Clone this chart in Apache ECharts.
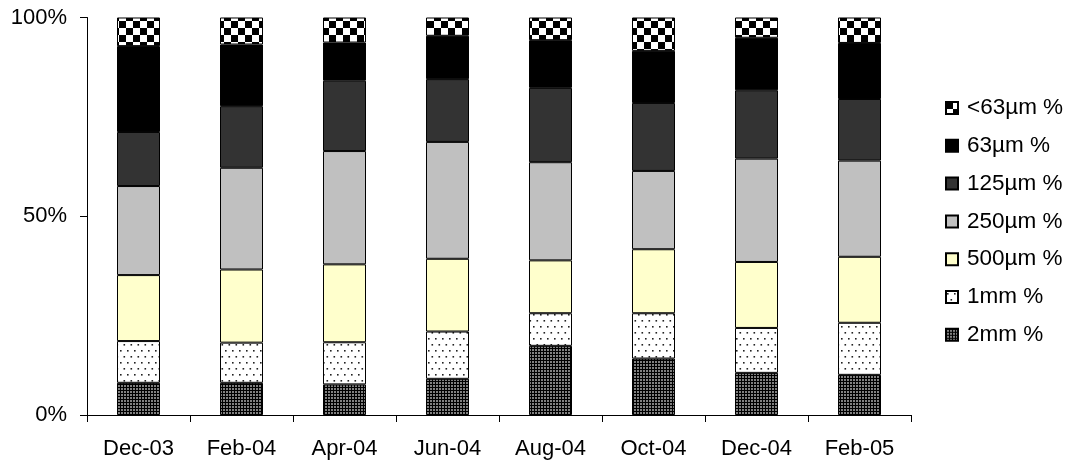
<!DOCTYPE html>
<html>
<head>
<meta charset="utf-8">
<script src="https://cdn.jsdelivr.net/npm/echarts@6/dist/echarts.min.js"></script>
<style>
html,body{margin:0;padding:0;background:#fff;}
#c{width:1069px;height:467px;}
</style>
</head>
<body>
<div id="c"></div>
<script>
const categories = ['Dec-03','Feb-04','Apr-04','Jun-04','Aug-04','Oct-04','Dec-04','Feb-05'];
const s2mm   = [8.1, 8.1, 7.7, 9.1, 17.4, 14.2, 10.6, 10.1];
const s1mm   = [10.5, 10.1, 10.6, 11.9, 8.2, 11.4, 11.3, 13.1];
const s500   = [16.6, 18.4, 19.6, 18.3, 13.3, 16.1, 16.6, 16.6];
const s250   = [22.4, 25.6, 28.5, 29.4, 24.7, 19.7, 26.0, 24.2];
const s125   = [13.6, 15.5, 17.7, 15.8, 18.7, 17.1, 17.2, 15.5];
const s63    = [21.6, 15.5, 9.6, 10.9, 12.0, 13.1, 13.2, 14.1];
const sLt63  = [7.2, 6.8, 6.3, 4.6, 5.7, 8.4, 5.1, 6.4];
const yTicks = [0, 50, 100];

function checker(){
  const c = document.createElement('canvas'); c.width = 14; c.height = 14;
  const g = c.getContext('2d');
  g.fillStyle = '#fff'; g.fillRect(0,0,14,14);
  g.fillStyle = '#000'; g.fillRect(0,0,7,7); g.fillRect(7,7,7,7);
  return c;
}
function dots(){
  const c = document.createElement('canvas'); c.width = 7; c.height = 12;
  const g = c.getContext('2d');
  g.fillStyle = '#fff'; g.fillRect(0,0,7,12);
  g.fillStyle = '#222';
  g.fillRect(1,2,1.6,1.6); g.fillRect(4.5,8,1.6,1.6);
  return c;
}
function grid(){
  const c = document.createElement('canvas'); c.width = 3; c.height = 3;
  const g = c.getContext('2d');
  g.fillStyle = '#000'; g.fillRect(0,0,3,3);
  g.fillStyle = '#808080'; g.fillRect(1,1,2,2);
  return c;
}

const font = '"Liberation Sans", Arial, sans-serif';
const chart = echarts.init(document.getElementById('c'), null, {renderer:'canvas'});

function mk(name, data, color){
  return {
    name, type:'bar', stack:'total', data, barWidth:43,
    itemStyle:{color, borderColor:'#000', borderWidth:1},
    emphasis:{disabled:true}
  };
}

chart.setOption({
  animation:false,
  backgroundColor:'#fff',
  grid:{left:87, right:158, top:17.5, bottom:52, containLabel:false},
  legend:{
    orient:'vertical', left:940, top:91,
    itemWidth:12, itemHeight:12, itemGap:13.8,
    icon:'rect',
    data:['<63µm %','63µm %','125µm %','250µm %','500µm %','1mm %','2mm %'],
    textStyle:{fontFamily:font, fontSize:22.5, color:'#000', lineHeight:24, padding:[0,0,0,4]}
  },
  xAxis:{
    type:'category', data:categories,
    axisLine:{lineStyle:{color:'#000', width:1}},
    axisTick:{show:true, length:7, lineStyle:{color:'#000'}},
    axisLabel:{fontFamily:font, fontSize:22, color:'#000', margin:23}
  },
  yAxis:{
    type:'value', min:yTicks[0], max:yTicks[2], interval:50,
    axisLine:{show:true, lineStyle:{color:'#000', width:1}},
    axisTick:{show:true, length:7, lineStyle:{color:'#000'}},
    splitLine:{show:false},
    axisLabel:{fontFamily:font, fontSize:22, color:'#000', margin:20, formatter:'{value}%'}
  },
  series:[
    mk('2mm %', s2mm, {image:grid(), repeat:'repeat'}),
    mk('1mm %', s1mm, {image:dots(), repeat:'repeat'}),
    mk('500µm %', s500, '#ffffcc'),
    mk('250µm %', s250, '#c0c0c0'),
    mk('125µm %', s125, '#333333'),
    mk('63µm %', s63, '#000000'),
    mk('<63µm %', sLt63, {image:checker(), repeat:'repeat'})
  ]
});
</script>
</body>
</html>
